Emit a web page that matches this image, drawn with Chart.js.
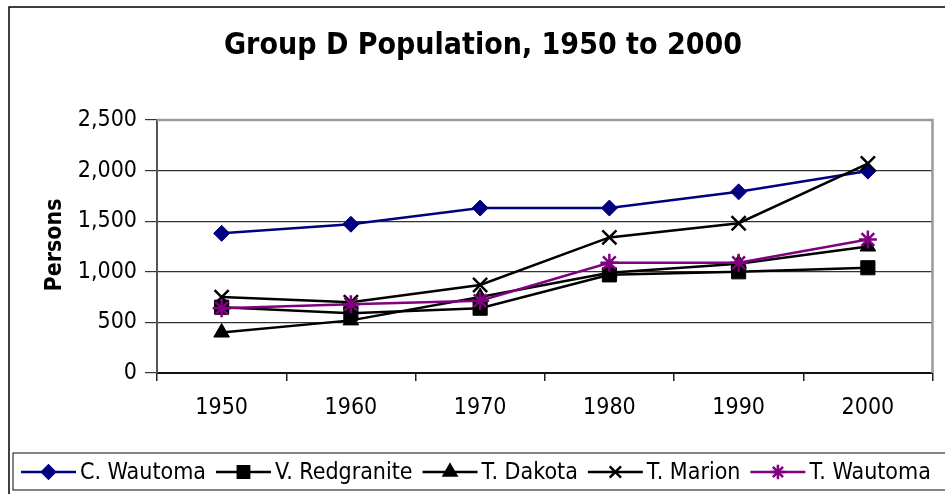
<!DOCTYPE html>
<html>
<head>
<meta charset="utf-8">
<title>Group D Population, 1950 to 2000</title>
<script src="https://cdn.jsdelivr.net/npm/chart.js@4/dist/chart.umd.min.js"></script>
<style>
  html, body { margin: 0; padding: 0; background: #fff; }
  canvas { display: block; }
</style>
</head>
<body>
<canvas id="grafico" width="945" height="494"></canvas>
<script>
// --- Dados ---
const anos = ['1950', '1960', '1970', '1980', '1990', '2000'];
const cWautoma = [1380, 1470, 1630, 1630, 1790, 1995];
const vRedgranite = [650, 590, 640, 970, 1000, 1040];
const tDakota = [400, 520, 750, 990, 1080, 1250];
const tMarion = [750, 700, 870, 1340, 1480, 2070];
const tWautoma = [640, 680, 715, 1090, 1090, 1320];

const titulo = 'Group D Population, 1950 to 2000';
const tituloEixoY = 'Persons';

const FONTE = '"DejaVu Sans Condensed", "DejaVu Sans", sans-serif';

function serie(label, data, cor, estilo, raio, ordem) {
    return {
        label: label,
        data: data,
        borderColor: cor,
        backgroundColor: cor,
        pointBackgroundColor: cor,
        pointBorderColor: cor,
        borderWidth: 2.5,
        pointStyle: estilo,
        pointRadius: raio,
        pointBorderWidth: (estilo === 'crossRot' || estilo === 'star') ? 2.5 : 1,
        tension: 0,
        fill: false,
        order: ordem
    };
}

// --- Plugin: moldura, título, eixo Y e legenda ---
const molduraPlugin = {
    id: 'moldura',
    beforeDraw(chart) {
        const ctx = chart.ctx;
        ctx.save();
        ctx.fillStyle = '#ffffff';
        ctx.fillRect(0, 0, chart.width, chart.height);
        ctx.restore();
    },
    beforeDatasetsDraw(chart) {
        const ctx = chart.ctx;
        const a = chart.chartArea;
        ctx.save();
        ctx.strokeStyle = '#9a9a9a';
        ctx.lineWidth = 2.5;
        ctx.beginPath();
        ctx.moveTo(a.left, a.top);
        ctx.lineTo(a.right, a.top);
        ctx.lineTo(a.right, a.bottom);
        ctx.stroke();
        ctx.restore();
    },
    afterDraw(chart) {
        const ctx = chart.ctx;
        ctx.save();

        // moldura externa
        ctx.strokeStyle = '#000';
        ctx.lineWidth = 1.5;
        ctx.strokeRect(9, 7, 980, 520);

        // título
        ctx.fillStyle = '#000';
        ctx.font = 'bold 30px ' + FONTE;
        ctx.textAlign = 'center';
        ctx.textBaseline = 'alphabetic';
        ctx.fillText(titulo, 483, 54);

        // título do eixo Y
        ctx.save();
        ctx.translate(61, 245);
        ctx.rotate(-Math.PI / 2);
        ctx.font = 'bold 23px ' + FONTE;
        ctx.textAlign = 'center';
        ctx.fillText(tituloEixoY, 0, 0);
        ctx.restore();

        // legenda
        ctx.strokeStyle = '#333';
        ctx.lineWidth = 1.2;
        ctx.strokeRect(13, 453, 960, 37);

        const yLeg = 472;
        let x = 21;
        ctx.font = '23px ' + FONTE;
        ctx.textAlign = 'left';
        ctx.textBaseline = 'middle';
        chart.data.datasets.forEach(ds => {
            ctx.strokeStyle = ds.borderColor;
            ctx.fillStyle = ds.borderColor;
            ctx.lineWidth = 2.5;
            ctx.beginPath();
            ctx.moveTo(x, yLeg);
            ctx.lineTo(x + 55, yLeg);
            ctx.stroke();
            Chart.helpers.drawPoint(ctx, {
                pointStyle: ds.pointStyle,
                radius: ds.pointRadius * 0.8,
                borderWidth: ds.pointBorderWidth,
                rotation: 0
            }, x + 27.5, yLeg);
            ctx.fillStyle = '#000';
            ctx.fillText(ds.label, x + 59, yLeg + 1);
            x += 59 + ctx.measureText(ds.label).width + 10;
        });

        ctx.restore();
    }
};

const ctx = document.getElementById('grafico');
new Chart(ctx, {
    type: 'line',
    data: {
        labels: anos,
        datasets: [
            serie('C. Wautoma', cWautoma, '#000080', 'rectRot', 8, 4),
            serie('V. Redgranite', vRedgranite, '#000000', 'rect', 10, 3),
            serie('T. Dakota', tDakota, '#000000', 'triangle', 9, 2),
            serie('T. Marion', tMarion, '#000000', 'crossRot', 10, 1),
            serie('T. Wautoma', tWautoma, '#800080', 'star', 9, 0)
        ]
    },
    options: {
        responsive: false,
        animation: false,
        layout: { padding: { top: 120, right: 11, bottom: 0, left: 0 } },
        plugins: {
            legend: { display: false },
            title: { display: false },
            tooltip: { enabled: false }
        },
        scales: {
            x: {
                offset: true,
                grid: {
                    offset: true,
                    drawOnChartArea: false,
                    drawTicks: true,
                    tickLength: 8,
                    color: '#222',
                    lineWidth: 1.5
                },
                border: { display: true, color: '#111', width: 2 },
                ticks: {
                    color: '#000',
                    padding: 13,
                    maxRotation: 0,
                    font: { family: FONTE, size: 23 }
                },
                afterFit(scale) { scale.height = 121; }
            },
            y: {
                min: 0,
                max: 2500,
                ticks: {
                    stepSize: 500,
                    color: '#000',
                    padding: 8,
                    font: { family: FONTE, size: 23 },
                    callback: v => v.toLocaleString('en-US')
                },
                grid: {
                    color: '#333',
                    lineWidth: 1.2,
                    tickLength: 12
                },
                border: { display: true, color: '#555', width: 2 },
                afterFit(scale) { scale.width = 157; }
            }
        }
    },
    plugins: [molduraPlugin]
});
</script>
</body>
</html>
